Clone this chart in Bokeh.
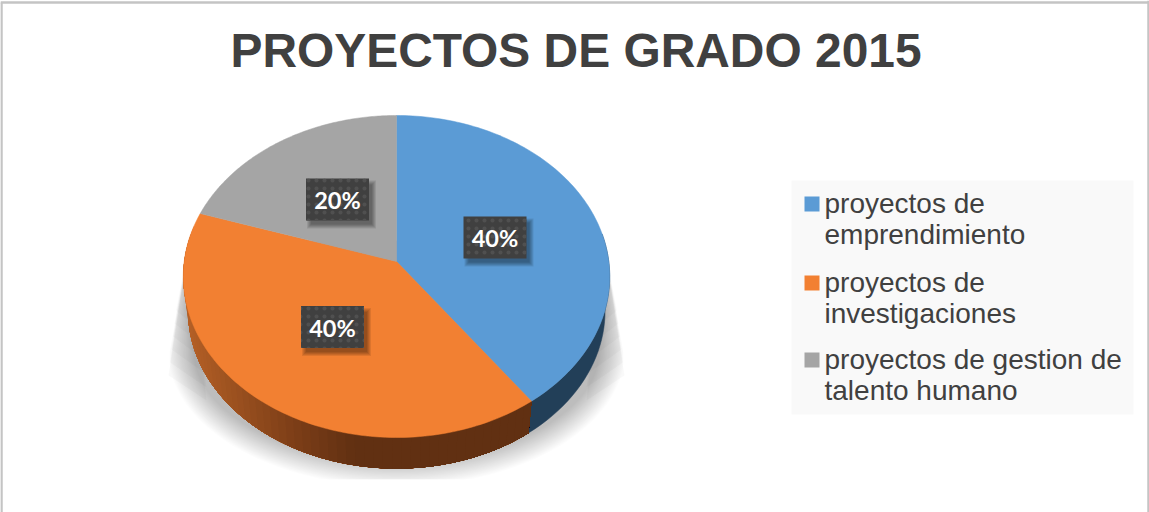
import numpy as np
from bokeh.plotting import figure
from bokeh.models import Range1d
from bokeh.core.properties import value
from bokeh.embed import file_html
from bokeh.resources import INLINE

title = "PROYECTOS DE GRADO 2015"
categories = ["proyectos de\nemprendimiento", "proyectos de\ninvestigaciones",
              "proyectos de gestion de\ntalento humano"]
values = [40, 40, 20]
labels = ["40%", "40%", "20%"]
colors = ["#5B9BD5", "#F28032", "#A5A5A5"]

W, H = 1149, 512
p = figure(width=W, height=H, output_backend="svg", toolbar_location=None,
           x_range=Range1d(1, W + 1), y_range=Range1d(H, 0), min_border=0,
           background_fill_color="white", border_fill_color="white",
           outline_line_color=None)
p.axis.visible = False
p.grid.visible = False

# perspective projection of the unit circle (theta clockwise from the top)
CX, A, B, C, R = 397.0, 261.0, -135.3, 0.0932, 212.3
def top(t):
    d = 1 + C * np.cos(t)
    return CX + R * np.sin(t) / d, (A + B * np.cos(t)) / d
S, DY = 0.978, 34.9
def low(t):
    x, y = top(t)
    return CX + S * (x - CX), A + DY + S * (y - A)

# shadow
def clip(xs, ys):
    return np.clip(xs, 170, 624), np.minimum(ys, 479)
phi = np.linspace(0, np.pi, 80)
n = 22
for k in range(n):
    g = k * 1.2
    rx = 228 - g
    xs = CX + rx * np.cos(phi)
    ys = 352 + (134 - g) * np.sin(phi)
    xs = np.r_[CX + 207, xs, CX - 207]
    ys = np.r_[240, ys, 240]
    xs, ys = clip(xs, ys)
    p.patch(xs, ys, fill_color="black", fill_alpha=0.011, line_color=None)
# side wedges of the shadow
for j in range(6):
    reach = 228 - j * 1.5
    yb = 375 - j * 13
    for sgn in (-1, 1):
        p.patch([CX + sgn * 207, CX + sgn * reach, CX + sgn * 190],
                [240, yb, yb + 25], fill_color="black", fill_alpha=0.022, line_color=None)

# slices
fr = np.cumsum([0] + values) / sum(values) * 2 * np.pi
# side walls
stops_x = np.array([183, 230, 300, 360, 532])
stops_c = np.array([[184, 98, 40], [160, 84, 33], [125, 62, 24], [97, 48, 18], [97, 48, 18]])
def side(t0, t1, col=None, m=60):
    if col is not None:
        ts = np.linspace(t0, t1, m + 1)
        x0, y0 = top(ts)
        x1, y1 = low(ts)
        p.patch(np.r_[x0, x1[::-1]], np.r_[y0, y1[::-1]], fill_color=col, line_color=col, line_width=0.5)
        return
    ts = np.linspace(t0, t1, m + 1)
    # painted back to front: each strip runs from its start to the end of the wall
    for a in ts[:-1][::-1]:
        tt = np.linspace(t0, a + (t1 - t0) / m, 60)
        x0, y0 = top(tt)
        x1, y1 = low(tt)
        mx = (top(np.array([a]))[0][0] + low(np.array([a]))[0][0]) / 2
        c = "#%02x%02x%02x" % tuple(int(np.interp(mx, stops_x, stops_c[:, i])) for i in range(3))
        p.patch(np.r_[x0, x1[::-1]], np.r_[y0, y1[::-1]], fill_color=c, line_color=None)
side(np.radians(80), fr[1], "#223F58", 30)
side(fr[1], fr[2] - np.radians(5))

# top faces
for i, c in enumerate(colors):
    t = np.linspace(fr[i], fr[i + 1], 120)
    x, y = top(t)
    p.patch(np.r_[CX, x], np.r_[A, y], fill_color=c, line_color=c, line_width=0.5)

# data labels
bx = [495.5, 333, 338]
by = [237, 326.5, 199]
bw, bh = 63, 42
for s in range(5):
    p.rect([v + 4 for v in bx], [v + 5 for v in by], width=bw + 6 - 2 * s, height=bh + 6 - 2 * s,
           fill_color="black", fill_alpha=0.09, line_color=None)
p.rect(bx, by, width=bw, height=bh, fill_color="#404040", line_color=None,
       hatch_pattern="dot", hatch_color="#505050", hatch_scale=8, hatch_weight=1)
p.text(bx, [v + 0.5 for v in by], text=labels, text_color="white", text_font=value("Lato"),
       text_font_style="bold", text_font_size="23.5px", text_align="center",
       text_baseline="middle")

# title
p.text([576.5], [49.5], text=[title], text_color="#404040", text_font=value("Liberation Sans"),
       text_font_style="bold", text_font_size="47.9px", text_align="center", text_baseline="middle")

# legend
p.quad(left=[792], right=[1134], top=[180], bottom=[414], fill_color="#F9F9F9", line_color=None)
sw_y = [203.5, 282.5, 359.5]
for cat, c, sy in zip(categories, colors, sw_y):
    p.rect([812.5], [sy], width=15, height=15, fill_color=c, line_color=None)
    for j, line in enumerate(cat.split("\n")):
        p.text([825], [sy - 1 + j * 31], text=[line], text_color="#404040",
               text_font=value("Liberation Sans"), text_font_size="28px",
               text_align="left", text_baseline="middle")

# frame
p.segment([1, 2, W], [2, 2, 0], [W + 1, 2, W], [2, H, H], line_color="#C4C4C4", line_width=2.5)

open("out.html", "w").write(file_html(p, INLINE))
